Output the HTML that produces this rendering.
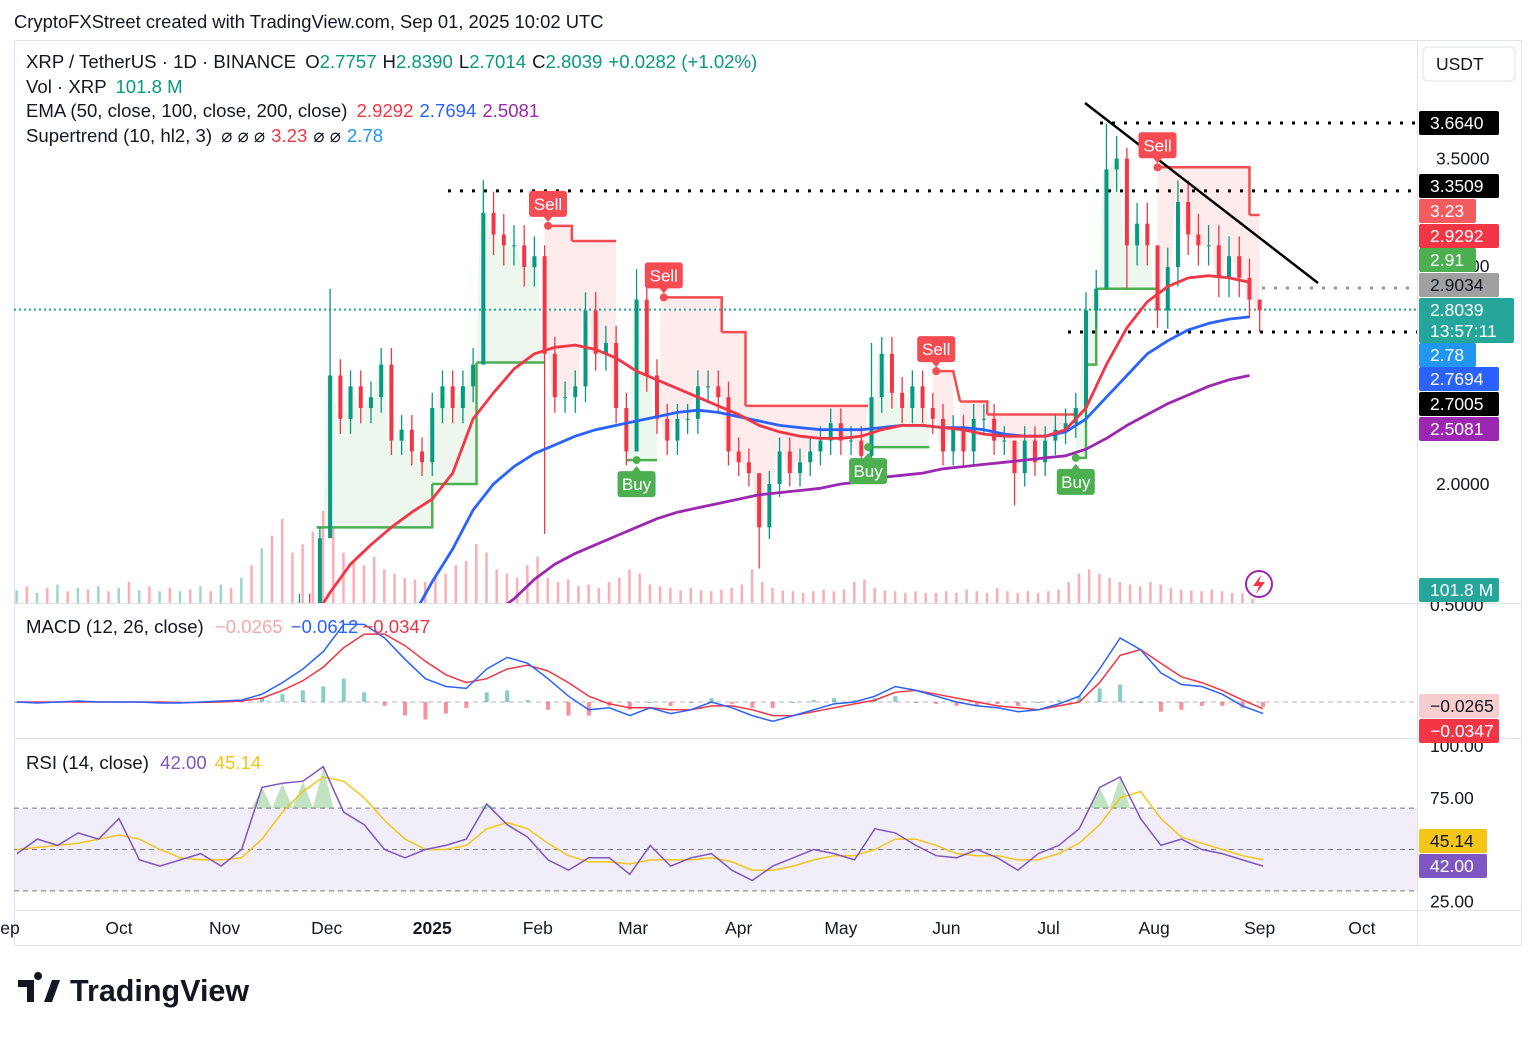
<!DOCTYPE html>
<html><head><meta charset="utf-8">
<style>
html,body{margin:0;padding:0;background:#fff;}
body{width:1536px;height:1034px;overflow:hidden;font-family:"Liberation Sans",Arial,sans-serif;}
svg text{font-family:"Liberation Sans",Arial,sans-serif;}
</style></head>
<body>
<svg id="c" width="1536" height="1034" xmlns="http://www.w3.org/2000/svg">
<text x="14" y="28" font-size="18.4" fill="#131722">CryptoFXStreet created with TradingView.com, Sep 01, 2025 10:02 UTC</text>
<rect x="14.5" y="40.5" width="1507" height="905" fill="none" stroke="#e0e3eb"/>
<line x1="1417.5" y1="40" x2="1417.5" y2="946" stroke="#e0e3eb"/>
<line x1="14" y1="603.5" x2="1522" y2="603.5" stroke="#e0e3eb"/>
<line x1="14" y1="738.5" x2="1522" y2="738.5" stroke="#e0e3eb"/>
<line x1="14" y1="910.5" x2="1522" y2="910.5" stroke="#e0e3eb"/>
<defs>
<clipPath id="cm"><rect x="14" y="40" width="1403" height="563"/></clipPath>
<clipPath id="cmacd"><rect x="14" y="604" width="1403" height="134"/></clipPath>
<clipPath id="crsi"><rect x="14" y="739" width="1403" height="171"/></clipPath>
</defs>
<g id="main" clip-path="url(#cm)"></g>
<g id="macd" clip-path="url(#cmacd)"></g>
<g id="rsi" clip-path="url(#crsi)"></g>
<g id="axis"></g>
<g id="legend">
<text x="26" y="68" font-size="18.6" fill="#131722">XRP / TetherUS · 1D · BINANCE <tspan dx="4">O</tspan><tspan fill="#089981">2.7757</tspan><tspan dx="6">H</tspan><tspan fill="#089981">2.8390</tspan><tspan dx="6">L</tspan><tspan fill="#089981">2.7014</tspan><tspan dx="6">C</tspan><tspan fill="#089981">2.8039</tspan><tspan dx="6" fill="#089981">+0.0282 (+1.02%)</tspan></text>
<text x="26" y="93" font-size="18.6" fill="#131722">Vol · XRP <tspan dx="4" fill="#089981">101.8 M</tspan></text>
<text x="26" y="117" font-size="18.6" fill="#131722">EMA (50, close, 100, close, 200, close) <tspan dx="4" fill="#f23645">2.9292</tspan><tspan dx="6" fill="#2962ff">2.7694</tspan><tspan dx="6" fill="#9c27b0">2.5081</tspan></text>
<text x="26" y="142" font-size="18.6" fill="#131722">Supertrend (10, hl2, 3) <tspan dx="4">⌀ ⌀ ⌀</tspan><tspan dx="6" fill="#f23645">3.23</tspan><tspan dx="6">⌀ ⌀</tspan><tspan dx="6" fill="#2196f3">2.78</tspan></text>
<text x="26" y="633" font-size="18.6" fill="#131722">MACD (12, 26, close) <tspan dx="6" fill="#f7a8a8">−0.0265</tspan><tspan dx="8" fill="#2962ff">−0.0612</tspan><tspan dx="4" fill="#f23645">−0.0347</tspan></text>
<text x="26" y="769" font-size="18.6" fill="#131722">RSI (14, close) <tspan dx="6" fill="#7e57c2">42.00</tspan><tspan dx="8" fill="#f5c518">45.14</tspan></text>
</g>
<g>
<path d="M18 980h16v22h-7v-15h-9z M38 980a4 4 0 1 1 0.1 0z" fill="#131722"/>
<polygon points="44,1002 52,980 60,980 52,1002" fill="#131722"/>
<text x="70" y="1001" font-size="30.5" font-weight="bold" fill="#131722">TradingView</text>
</g>
</svg>
<script>
// ---------- DATA ----------
const candleStartDay = 44, candleStep = 3;
const closes = [0.75,1.1,1.1,1.45,1.4,1.75,2.5,2.3,2.45,2.35,2.4,2.55,2.2,2.25,2.15,2.1,2.35,2.45,2.35,2.45,2.55,3.25,3.15,3.1,3.1,3.0,3.05,2.6,2.4,2.4,2.45,2.8,2.6,2.65,2.35,2.15,2.85,2.5,2.3,2.2,2.3,2.3,2.45,2.45,2.4,2.15,2.1,2.05,1.8,2.0,2.15,2.05,2.1,2.15,2.2,2.28,2.2,2.2,2.13,2.4,2.6,2.42,2.35,2.45,2.35,2.3,2.15,2.25,2.15,2.3,2.3,2.2,2.2,2.05,2.2,2.1,2.2,2.25,2.28,2.35,2.8,2.9,3.45,3.5,3.1,3.2,3.1,2.8,3.0,3.3,3.15,3.1,3.1,2.95,3.05,2.95,2.85,2.80];
const wickDays = [62,107,125,152,188,221,263,290,296,305,335];
const wickHighs = [2.9,3.4,3.1,2.99,2.0,2.65,2.2,3.66,3.55,3.1,2.84];
const wickLows = [2.0,2.6,1.77,2.2,1.61,2.1,1.9,3.0,2.9,2.72,2.70];
const lineStartDay = 44, lineStep = 6;
const ema50 = [1.0,1.2,1.35,1.5,1.63,1.72,1.8,1.87,1.93,2.05,2.3,2.42,2.53,2.6,2.63,2.64,2.62,2.58,2.52,2.48,2.44,2.4,2.36,2.32,2.27,2.24,2.22,2.21,2.21,2.22,2.25,2.27,2.27,2.26,2.25,2.23,2.22,2.22,2.22,2.25,2.35,2.55,2.72,2.84,2.91,2.95,2.96,2.95,2.93];
const ema100 = [0.8,0.85,0.9,0.98,1.05,1.15,1.25,1.38,1.55,1.7,1.88,2.0,2.08,2.14,2.18,2.22,2.25,2.27,2.29,2.31,2.33,2.34,2.33,2.31,2.29,2.27,2.26,2.25,2.25,2.25,2.26,2.27,2.27,2.26,2.26,2.25,2.23,2.22,2.22,2.24,2.3,2.4,2.5,2.6,2.66,2.71,2.74,2.76,2.77];
const ema200 = [0.8,0.85,0.9,0.95,1.0,1.05,1.1,1.15,1.22,1.28,1.34,1.4,1.47,1.56,1.63,1.68,1.72,1.76,1.8,1.84,1.87,1.89,1.91,1.93,1.95,1.96,1.97,1.98,2.0,2.01,2.03,2.04,2.05,2.07,2.08,2.09,2.1,2.11,2.12,2.13,2.16,2.21,2.27,2.32,2.37,2.41,2.45,2.48,2.5];
const stStart = [58,92,105,125,133,149,159,177,184,220,239,247,255,281,284,287,305,332];
const stEnd   = [92,105,125,133,146,158,177,184,220,238,245,255,281,284,287,305,332,335];
const stLevel = [1.8,2.0,2.56,3.19,3.12,2.11,2.86,2.7,2.36,2.17,2.52,2.38,2.32,2.12,2.55,2.9,3.46,3.24];
const stUp    = [1,1,1,0,0,1,0,0,0,1,0,0,0,1,1,1,0,0];
const sigDay = [126,152,160,220,240,281,305];
const sigLevel = [3.19,2.11,2.86,2.17,2.52,2.12,3.46];
const sigType = ["Sell","Buy","Sell","Buy","Sell","Buy","Sell"];
const volStartDay = -30, volStep = 3;
const volumes = [300,400,240,360,440,280,360,320,400,280,360,500,300,400,280,360,280,320,400,280,
440,360,600,900,1300,1600,2000,1200,1400,1700,
2200,1800,1200,1000,900,1100,800,700,600,560,
500,600,700,900,1000,1400,1200,800,700,600,
900,1100,600,500,560,400,440,360,500,600,
800,700,440,400,360,300,360,300,280,320,
360,440,800,500,360,300,280,240,280,320,
280,320,500,560,360,300,280,240,280,240,
240,280,240,320,280,240,360,280,240,280,
240,280,320,500,700,800,700,600,500,440,
400,500,440,360,320,300,280,320,280,240,
240,102];
const oscStartDay = -30, oscStep = 6;
const macdLine = [0.0,-0.005,0.0,0.005,0.0,0.0,0.0,-0.005,-0.005,0.0,0.005,0.01,0.04,0.1,0.17,0.26,0.4,0.4,0.33,0.22,0.12,0.08,0.07,0.17,0.23,0.2,0.12,0.03,-0.04,-0.03,-0.07,-0.03,-0.06,-0.04,0.0,-0.03,-0.07,-0.1,-0.07,-0.04,-0.01,0.0,0.03,0.08,0.06,0.03,0.0,-0.02,-0.03,-0.05,-0.04,-0.01,0.03,0.17,0.33,0.27,0.15,0.09,0.08,0.04,-0.02,-0.06];
const signalLine = [0.0,0.0,0.0,0.0,0.0,0.0,0.0,0.0,-0.003,-0.002,0.0,0.005,0.02,0.06,0.11,0.18,0.28,0.35,0.35,0.29,0.21,0.14,0.1,0.12,0.17,0.19,0.16,0.1,0.03,-0.01,-0.03,-0.03,-0.04,-0.04,-0.02,-0.02,-0.04,-0.07,-0.07,-0.05,-0.03,-0.01,0.01,0.05,0.06,0.04,0.02,0.0,-0.02,-0.03,-0.04,-0.02,0.0,0.1,0.24,0.27,0.2,0.13,0.1,0.06,0.01,-0.035];
const rsiLine = [48,55,52,58,55,65,45,42,45,48,42,50,80,82,83,90,68,62,50,46,50,52,55,72,62,56,45,40,46,46,38,52,42,46,48,40,35,42,46,50,48,45,60,58,52,47,46,50,46,40,48,52,60,80,85,65,52,55,50,48,45,42];
const rsiMa = [50,51,52,53,55,57,55,50,46,45,45,46,55,68,78,85,83,75,64,55,50,50,52,60,63,60,53,47,44,44,43,45,45,45,46,44,40,40,42,45,47,47,50,55,55,52,48,47,47,45,45,48,53,62,75,78,65,56,53,50,47,45];
const timeLabels = ["ep","Oct","Nov","Dec","2025","Feb","Mar","Apr","May","Jun","Jul","Aug","Sep","Oct"];
const timeDays = [-32,0,31,61,92,123,151,182,212,243,273,304,335,365];
const priceTicks = [3.5,2.0];
const rsiTicks = [100,75,25];

// ---------- AXES ----------
const NS="http://www.w3.org/2000/svg";
const xOf = d => 119 + d*3.405;
const yP = p => 123 + (3.664-p)/0.00461;
const yM = v => 702 - v*194;
const yR = v => 746 + (100-v)*2.07;
const yV = v => 603 - v*0.042;
function mk(tag, attrs, parent){const e=document.createElementNS(NS,tag);for(const k in attrs)e.setAttribute(k,attrs[k]);parent.appendChild(e);return e;}
const main=document.getElementById('main'), macdG=document.getElementById('macd'), rsiG=document.getElementById('rsi'), axis=document.getElementById('axis');

// volume
volumes.forEach((v,i)=>{
  const d=volStartDay+i*volStep;
  const ci=(d-candleStartDay)/candleStep;
  let up = i%2===0;
  if(ci>=1 && ci<closes.length) up = closes[ci]>=closes[ci-1];
  const r=mk('rect',{x:xOf(d)-1.5,y:yV(v),width:2.5,height:603-yV(v),fill:up?'rgba(8,153,129,0.4)':'rgba(242,54,69,0.4)'},main);
  
  
});

// supertrend fills and lines
stLevel.forEach((lv,i)=>{
  const pts=[];
  const d0=stStart[i], d1=stEnd[i];
  pts.push([xOf(d0),yP(lv)]);pts.push([xOf(d1),yP(lv)]);
  for(let d=d1; d>=d0; d-=1){
    const ci=Math.round((d-candleStartDay)/candleStep);
    if(ci>=0&&ci<closes.length) pts.push([xOf(d),yP(closes[ci])]);
  }
  const f=mk('polygon',{points:pts.map(p=>p.join(',')).join(' '),fill:stUp[i]?'rgba(76,175,80,0.1)':'rgba(242,54,69,0.1)'},main);
  
  
});
stLevel.forEach((lv,i)=>{
  let dpath='M'+xOf(stStart[i])+','+yP(lv)+' L'+xOf(stEnd[i])+','+yP(lv);
  if(i+1<stLevel.length && stUp[i]===stUp[i+1]) dpath+=' L'+xOf(stStart[i+1])+','+yP(stLevel[i+1]);
  const l=mk('path',{d:dpath,fill:'none',stroke:stUp[i]?'#4caf50':'#f44c52','stroke-width':2.5},main);
  
  
});

// dotted levels
const levels=[[3.664,1100,'#000',2],[3.3509,448,'#000',2],[2.7005,1068,'#000',2],[2.9034,1262,'#999',2],[2.8039,14,'#26a69a',1]];
levels.forEach(lv=>{
  const l=mk('line',{x1:lv[1],y1:yP(lv[0]),x2:1417,y2:yP(lv[0]),stroke:lv[2],'stroke-width':lv[3]+1,'stroke-dasharray':lv[3]===2?'3 9':'2 3'},main);
  
  
});

// candles
closes.forEach((c,i)=>{
  const d=candleStartDay+i*candleStep;
  const o=i>0?closes[i-1]:c;
  const up=c>=o;
  const col=up?'#089981':'#f23645';
  let hi=Math.max(o,c)*1.03, lo=Math.min(o,c)*0.97;
  const wi=wickDays.indexOf(d);
  if(wi>=0){hi=wickHighs[wi];lo=wickLows[wi];}
  const w=mk('line',{x1:xOf(d),y1:yP(hi),x2:xOf(d),y2:yP(lo),stroke:col,'stroke-width':1.3},main);
  
  
  const top=yP(Math.max(o,c)), bot=yP(Math.min(o,c));
  const b=mk('rect',{x:xOf(d)-2,y:top,width:4,height:Math.max(1,bot-top),fill:col},main);
  
  
});

function linePath(arr,start,step,yf){return arr.map((v,i)=>(i?'L':'M')+xOf(start+i*step).toFixed(1)+','+yf(v).toFixed(1)).join(' ');}
[[ema200,'#9c27b0','ema-200-line'],[ema100,'#2962ff','ema-100-line'],[ema50,'#f23645','ema-50-line']].forEach(s=>{
  const p=mk('path',{d:linePath(s[0],lineStartDay,lineStep,yP),fill:'none',stroke:s[1],'stroke-width':2.8,'stroke-linejoin':'round'},main);
  
  
});

// trendline
const tl=mk('line',{x1:1085,y1:103,x2:1318,y2:283,stroke:'#000','stroke-width':2.5},main);



// signals
sigDay.forEach((d,i)=>{
  const x=xOf(d), ly=yP(sigLevel[i]);
  const sell=sigType[i]==='Sell';
  const col=sell?'#f44c52':'#4caf50';
  const cy=sell?ly-22:ly+24;
  const g=mk('g',{},main);
  
  
  mk('circle',{cx:x,cy:ly,r:4,fill:col},g);
  mk('rect',{x:x-19,y:cy-13,width:38,height:26,rx:3,fill:col},g);
  mk('polygon',{points:sell?`${x-5},${cy+12} ${x+5},${cy+12} ${x},${cy+18}`:`${x-5},${cy-12} ${x+5},${cy-12} ${x},${cy-18}`,fill:col},g);
  const t=mk('text',{x:x,y:cy+6,'font-size':17,fill:'#fff','text-anchor':'middle'},g);
  t.textContent=sigType[i];
});
// lightning icon
const li=mk('g',{},main);


mk('circle',{cx:1259,cy:584,r:13,fill:'none',stroke:'#9c27b0','stroke-width':2},li);
mk('polygon',{points:'1261,575 1253,586 1259,586 1256,594 1265,582 1259,582',fill:'#f23645'},li);

// ---------- MACD ----------
const zl=mk('line',{x1:14,y1:702,x2:1417,y2:702,stroke:'#b2b5be','stroke-dasharray':'5 4'},macdG);


macdLine.forEach((m,i)=>{
  const h=m-signalLine[i];
  const x=xOf(oscStartDay+i*oscStep);
  const y0=yM(0), y1=yM(h);
  const r=mk('rect',{x:x-2,y:Math.min(y0,y1),width:4,height:Math.max(1,Math.abs(y1-y0)),fill:h>=0?'rgba(38,166,154,0.55)':'rgba(242,54,69,0.55)'},macdG);
  
  
});
[[signalLine,'#f23645','macd-signal-line'],[macdLine,'#2962ff','macd-line']].forEach(s=>{
  const p=mk('path',{d:linePath(s[0],oscStartDay,oscStep,yM),fill:'none',stroke:s[1],'stroke-width':1.5},macdG);
  
  
});

// ---------- RSI ----------
const band=mk('rect',{x:14,y:yR(70),width:1403,height:yR(30)-yR(70),fill:'rgba(126,87,194,0.1)'},rsiG);


[70,50,30].forEach(v=>{
  const l=mk('line',{x1:14,y1:yR(v),x2:1417,y2:yR(v),stroke:'#787b86','stroke-dasharray':'5 4','stroke-width':1},rsiG);
  
  
});
rsiLine.forEach((v,i)=>{
  if(v>70){
    const d=oscStartDay+i*oscStep;
    const pl=mk('polygon',{points:`${xOf(d-oscStep/2)},${yR(70)} ${xOf(d)},${yR(v)} ${xOf(d+oscStep/2)},${yR(70)}`,fill:'rgba(76,175,80,0.35)'},rsiG);
    
    
  }
});
[[rsiMa,'#f5c518','rsi-ma-line'],[rsiLine,'#7e57c2','rsi-line']].forEach(s=>{
  const p=mk('path',{d:linePath(s[0],oscStartDay,oscStep,yR),fill:'none',stroke:s[1],'stroke-width':1.5},rsiG);
  
  
});

// ---------- AXIS LABELS ----------
timeLabels.forEach((t,i)=>{
  const e=mk('text',{x:xOf(timeDays[i]),y:934,'font-size':17.5,fill:'#131722','text-anchor':'middle','font-weight':t==='2025'?'bold':'normal'},axis);
  
  
  e.textContent=t;
});
priceTicks.forEach(p=>{
  const e=mk('text',{x:1436,y:yP(p)+6,'font-size':17.5,fill:'#131722'},axis);
  
  
  e.textContent=p.toFixed(4);
});
rsiTicks.forEach(v=>{
  const e=mk('text',{x:1430,y:yR(v)+6,'font-size':17.5,fill:'#131722'},axis);
  
  
  e.textContent=v.toFixed(2);
});
const m5=mk('text',{x:1430,y:611,'font-size':17.5,fill:'#131722'},axis);


m5.textContent='0.5000';
const m3=mk('text',{x:1436,y:272,'font-size':17.5,fill:'#131722'},axis);


m3.textContent='3.0000';
const ub=mk('rect',{x:1423,y:47,width:92,height:34,rx:5,fill:'#fff',stroke:'#e0e3eb'},axis);


const ut=mk('text',{x:1436,y:70,'font-size':17.5,fill:'#131722'},axis);


ut.textContent='USDT';

const tagY=[123,186,211,236,260,285,355,379,404,429,590,706,731,841,866];
const tagText=['3.6640','3.3509','3.23','2.9292','2.91','2.9034','2.78','2.7694','2.7005','2.5081','101.8 M','−0.0265','−0.0347','45.14','42.00'];
const tagBg=['#000','#000','#f55a5f','#f23645','#4caf50','#a0a0a0','#2196f3','#2962ff','#000','#9c27b0','#26a69a','#f8cdd0','#f23645','#f5c518','#7e57c2'];
const tagFg=['#fff','#fff','#fff','#fff','#fff','#131722','#fff','#fff','#fff','#fff','#fff','#131722','#fff','#131722','#fff'];
const tagW=[80,80,57,80,57,80,57,80,80,80,80,80,80,68,68];
tagY.forEach((y,i)=>{
  const g=mk('g',{},axis);
  
  
  mk('rect',{x:1419,y:y-12,width:tagW[i],height:24,rx:2,fill:tagBg[i]},g);
  const t=mk('text',{x:1430,y:y+6,'font-size':17.5,fill:tagFg[i]},g);
  t.textContent=tagText[i];
});
const cg=mk('g',{},axis);


mk('rect',{x:1419,y:298,width:95,height:45,rx:2,fill:'#26a69a'},cg);
const c1=mk('text',{x:1430,y:316,'font-size':17.5,fill:'#fff'},cg);c1.textContent='2.8039';
const c2=mk('text',{x:1430,y:337,'font-size':17.5,fill:'#fff'},cg);c2.textContent='13:57:11';
</script>
</body></html>
